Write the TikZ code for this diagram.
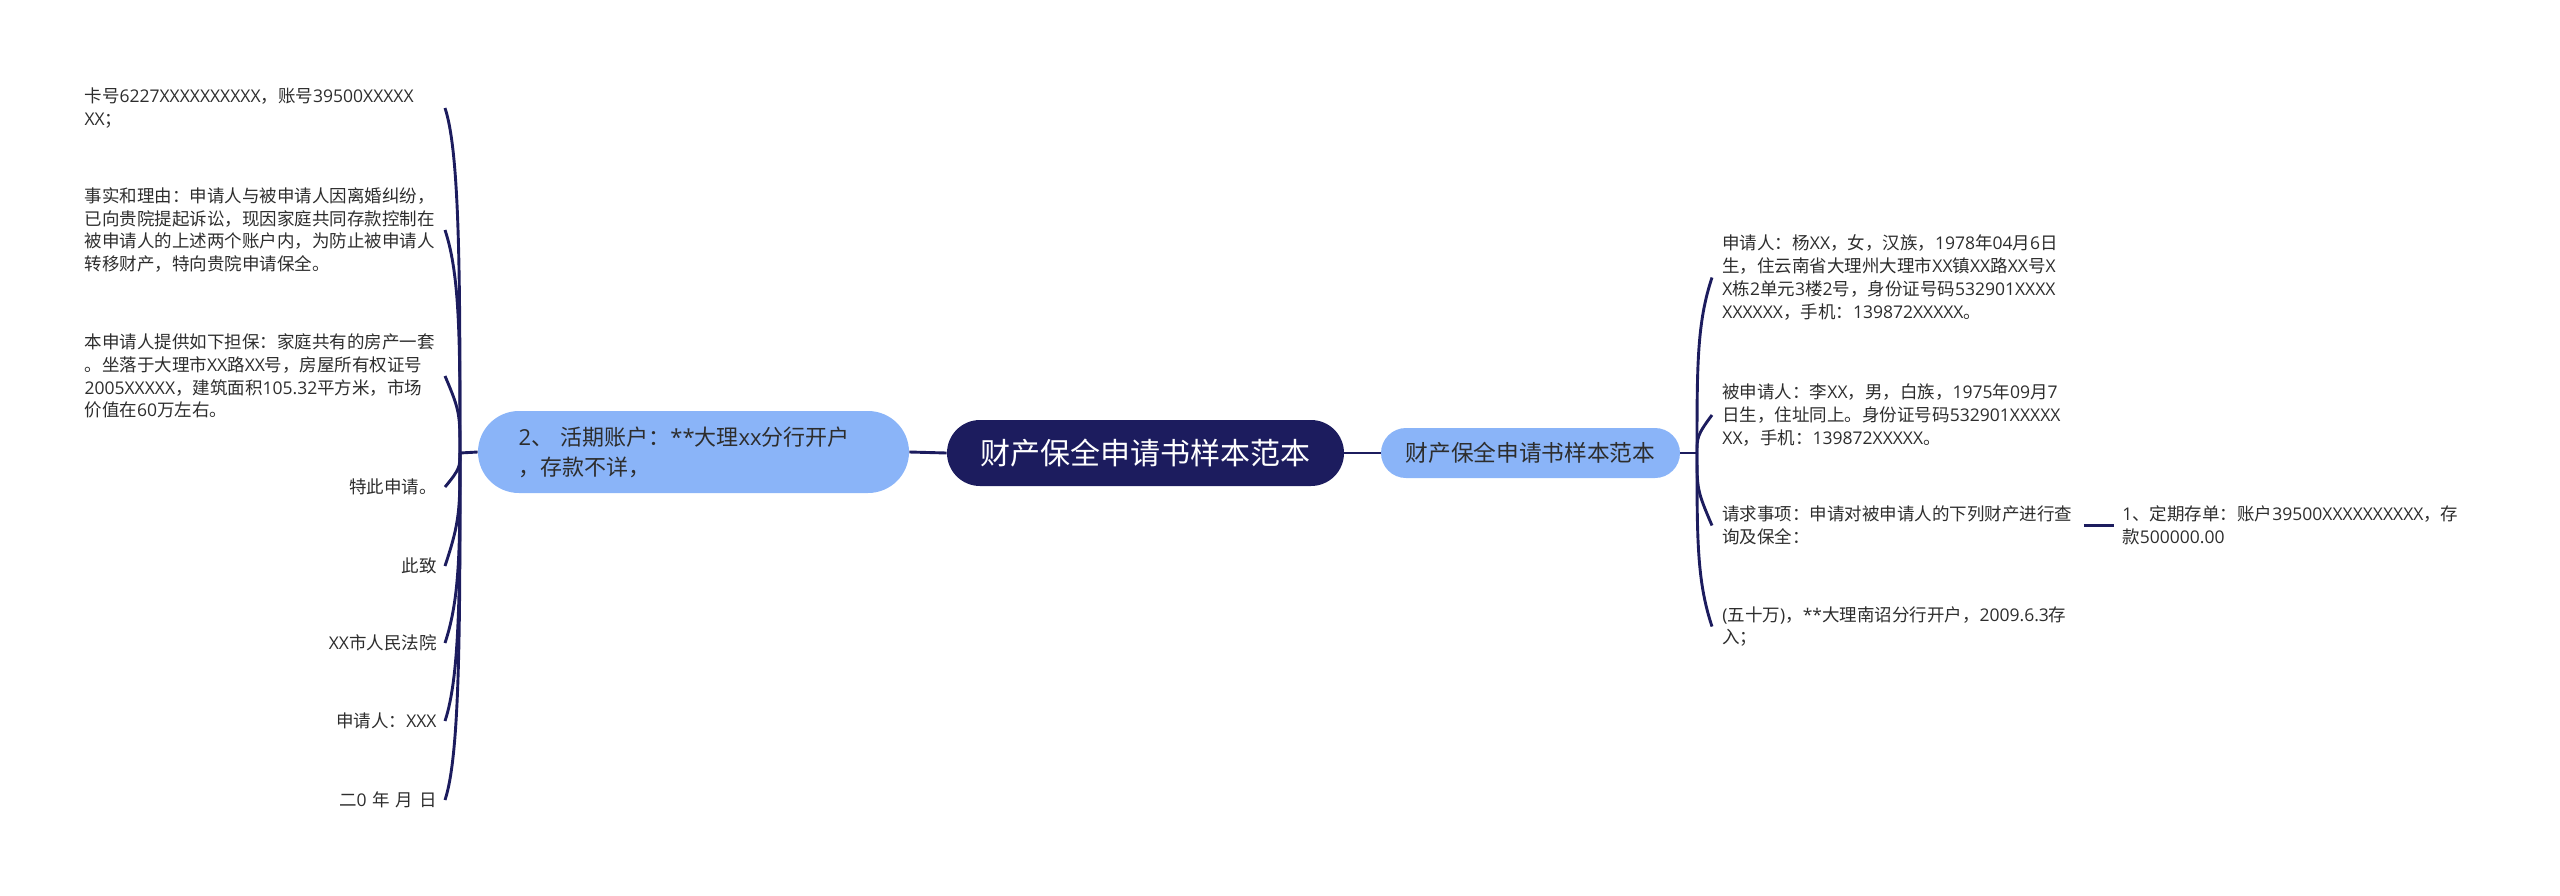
\documentclass[tikz,border=0pt]{standalone}
\usepackage{fontspec}
\setmainfont{Noto Sans CJK SC}
\newfontfamily\latfont{Open Sans}
\newcommand\la[1]{{\latfont #1}}
\usetikzlibrary{calc}
\definecolor{navy}{RGB}{28,28,94}
\definecolor{lblue}{RGB}{138,180,248}
\definecolor{txt}{RGB}{45,45,45}
\begin{document}
\begin{tikzpicture}[x=0.5pt,y=-0.5pt,
  conn/.style={draw=navy,line width=1.45pt},
  leaf/.style={text=txt,font=\fontsize{8.75pt}{11.35pt}\selectfont,inner ysep=0pt},
  lleafl/.style={leaf,anchor=east,inner xsep=4pt,text width=176pt,align=left},
  lleafr/.style={leaf,anchor=east,inner xsep=4pt,text width=176pt,align=right},
  rleaf/.style={leaf,anchor=west,inner xsep=5pt,text width=178pt,align=left},
  rootbox/.style={fill=navy,text=white,rounded corners=16.5pt,minimum width=198.5pt,minimum height=33pt,inner sep=0pt,font=\fontsize{15pt}{18pt}\selectfont},
  subbox/.style={fill=lblue,text=txt,inner sep=0pt}]
\useasboundingbox (0,0) rectangle (2560,895);

% main nodes
\node[rootbox] (root) at (1145.5,453) {财产保全申请书样本范本};
\node[subbox,rounded corners=12.5pt,minimum width=149.5pt,minimum height=25pt,font=\fontsize{11.35pt}{14pt}\selectfont] (rn) at (1530.5,453) {财产保全申请书样本范本};
\node[subbox,rounded corners=20.5pt,minimum height=41pt,inner xsep=20.25pt,text width=175pt,align=left,font=\fontsize{11pt}{15pt}\selectfont] (ln) at (693.5,452) {\la{2}、 活期账户：\la{**}大理\la{xx}分行开户\\，存款不详，};

\coordinate (lj) at (460,453);
\coordinate (rj) at (1697,453);

% left leaves
\node[lleafl] (c1) at (445,108) {卡号\la{6227XXXXXXXXXX}，账号\la{39500XXXXX}\\\la{XX}；};
\node[lleafl] (c2) at (445,230) {事实和理由：申请人与被申请人因离婚纠纷，\\已向贵院提起诉讼，现因家庭共同存款控制在\\被申请人的上述两个账户内，为防止被申请人\\转移财产，特向贵院申请保全。};
\node[lleafl] (c3) at (445,376) {本申请人提供如下担保：家庭共有的房产一套\\。坐落于大理市\la{XX}路\la{XX}号，房屋所有权证号\\\la{2005XXXXX}，建筑面积\la{105.32}平方米，市场\\价值在\la{60}万左右。};
\node[lleafr] (c4) at (445,487) {特此申请。};
\node[lleafr] (c5) at (445,566) {此致};
\node[lleafr] (c6) at (445,643) {\la{XX}市人民法院};
\node[lleafr] (c7) at (445,721) {申请人：\la{XXX}};
\node[lleafr] (c8) at (445,800) {二\la{0} 年 月 日};

% right leaves
\node[rleaf] (r1) at (1712,277.5) {申请人：杨\la{XX}，女，汉族，\la{1978}年\la{04}月\la{6}日\\生，住云南省大理州大理市\la{XX}镇\la{XX}路\la{XX}号\la{X}\\\la{X}栋\la{2}单元\la{3}楼\la{2}号，身份证号码\la{532901XXXX}\\\la{XXXXXX}，手机：\la{139872XXXXX}。};
\node[rleaf] (r2) at (1712,415) {被申请人：李\la{XX}，男，白族，\la{1975}年\la{09}月\la{7}\\日生，住址同上。身份证号码\la{532901XXXXX}\\\la{XX}，手机：\la{139872XXXXX}。};
\node[leaf,anchor=west,inner xsep=5pt,text width=175.5pt,align=left] (r3) at (1712,525.5) {请求事项：申请对被申请人的下列财产进行查\\询及保全：};
\node[rleaf] (r4) at (1712,626.5) {\la{(}五十万\la{)}，\la{**}大理南诏分行开户，\la{2009.6.3}存\\入；};
\node[leaf,anchor=west,inner xsep=4pt,text width=190pt,align=left] (r5) at (2114,525.5) {\la{1}、定期存单：账户\la{39500XXXXXXXXXX}，存\\款\la{500000.00}};

% connectors
\draw[conn] (root.west) -- (ln.east);
\draw[conn] (root.east) -- (rn.west);
\draw[conn] (ln.west) -- (lj);
\draw[conn] (rn.east) -- (rj);
\draw[conn] (r3.east) -- (r5.west);

\draw[conn] (lj) .. controls ($(lj)!0.5!(lj |- c1.east)$) and ($(lj |- c1.east)+(0,45)$) .. (c1.east);
\draw[conn] (lj) .. controls ($(lj)!0.5!(lj |- c2.east)$) and ($(lj |- c2.east)+(0,45)$) .. (c2.east);
\draw[conn] (lj) .. controls ($(lj)!0.5!(lj |- c3.east)$) and ($(lj |- c3.east)+(0,35)$) .. (c3.east);
\draw[conn] (lj) .. controls ($(lj)!0.4!(lj |- c4.east)$) and ($(lj |- c4.east)+(0,-18)$) .. (c4.east);
\draw[conn] (lj) .. controls ($(lj)!0.5!(lj |- c5.east)$) and ($(lj |- c5.east)+(0,-45)$) .. (c5.east);
\draw[conn] (lj) .. controls ($(lj)!0.5!(lj |- c6.east)$) and ($(lj |- c6.east)+(0,-45)$) .. (c6.east);
\draw[conn] (lj) .. controls ($(lj)!0.5!(lj |- c7.east)$) and ($(lj |- c7.east)+(0,-45)$) .. (c7.east);
\draw[conn] (lj) .. controls ($(lj)!0.5!(lj |- c8.east)$) and ($(lj |- c8.east)+(0,-45)$) .. (c8.east);

\draw[conn] (rj) .. controls ($(rj)!0.5!(rj |- r1.west)$) and ($(rj |- r1.west)+(0,45)$) .. (r1.west);
\draw[conn] (rj) .. controls ($(rj)!0.4!(rj |- r2.west)$) and ($(rj |- r2.west)+(0,20)$) .. (r2.west);
\draw[conn] (rj) .. controls ($(rj)!0.5!(rj |- r3.west)$) and ($(rj |- r3.west)+(0,-35)$) .. (r3.west);
\draw[conn] (rj) .. controls ($(rj)!0.5!(rj |- r4.west)$) and ($(rj |- r4.west)+(0,-45)$) .. (r4.west);
\end{tikzpicture}
\end{document}
